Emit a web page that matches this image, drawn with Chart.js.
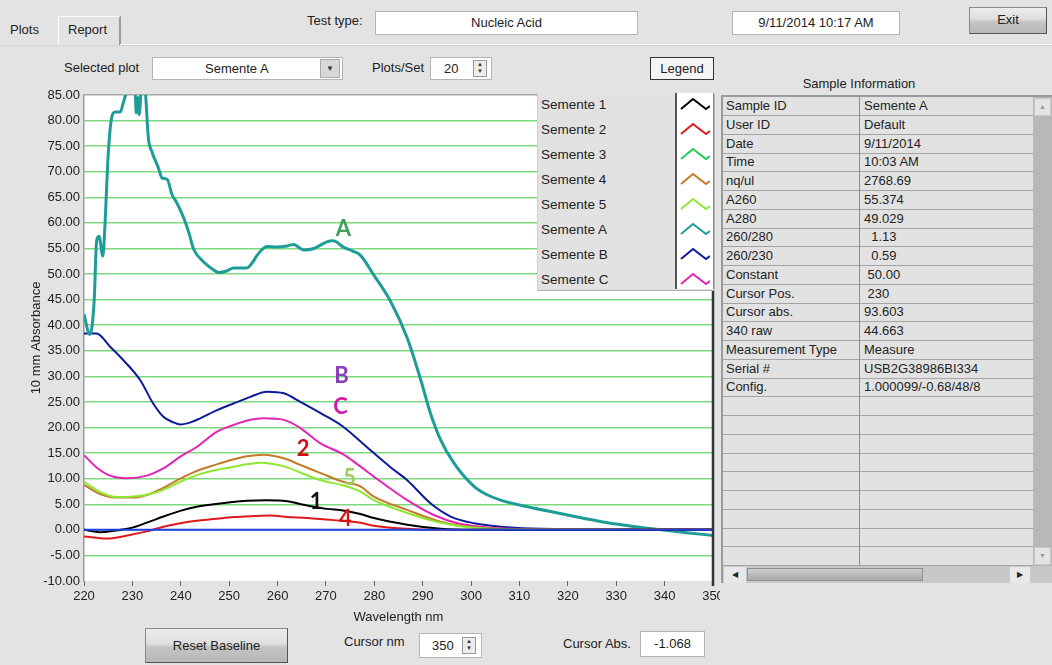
<!DOCTYPE html>
<html>
<head>
<meta charset="utf-8">
<script src="https://cdn.jsdelivr.net/npm/chart.js@4/dist/chart.umd.min.js"></script>
<style>
  body { margin: 0; width: 1052px; height: 665px; background: #e3e3e3; position: relative; overflow: hidden;
         font-family: "Liberation Sans", Arial, sans-serif; font-size: 13px; color: #222; }
  .t { position: absolute; white-space: pre; line-height: 16px; }
  .box { position: absolute; box-sizing: border-box; background: #fff; border: 1px solid #b4b4b4;
         line-height: 21px; text-align: center; }
  .btn { position: absolute; box-sizing: border-box; border: 1px solid #8a8a8a; border-right-color: #555; border-bottom-color: #555;
         background: linear-gradient(#ececec, #dedede 45%, #c4c4c4 55%, #b8b8b8); text-align: center; }
  .spin { position: absolute; width: 14px; height: 17px; border: 1px solid #999; background: #ececec; box-sizing: border-box;
          font-size: 6px; line-height: 7px; text-align: center; color: #333; }
  #wrap { position: absolute; left: 10px; top: 85px; width: 710px; height: 543px; }
  #legend { position: absolute; left: 537px; top: 92px; width: 177px; height: 199px; background: #e2e2e2;
            border-bottom: 1px solid #b0b0b0; border-left: 1px solid #d0d0d0; box-sizing: border-box; }
  #legend .lbl { position: absolute; left: 3px; font-size: 13.5px; line-height: 16px; }
  #legend .icons { position: absolute; left: 137px; top: 1px; width: 36px; height: 196px; background: #fff;
                   border-left: 2px solid #555; border-right: 1px solid #888; }
  #legend svg { position: absolute; left: 3px; }
  #table { position: absolute; left: 721px; top: 95px; width: 331px; height: 488px; background: #d6d6d6;
           border-left: 2px solid #9a9a9a; border-top: 2px solid #9a9a9a; box-sizing: border-box; }
  #table .row { position: absolute; left: 0; width: 312px; height: 19px; border-bottom: 1.5px solid #a4a4a4; box-sizing: border-box;
                background: #e2e2e2; }
  #table .c1 { position: absolute; left: 3px; top: 1px; white-space: pre; }
  #table .c2 { position: absolute; left: 141px; top: 1px; white-space: pre; }
  #table .div { position: absolute; left: 136px; top: 0; width: 1px; height: 468px; background: #8c8c8c; }
</style>
</head>
<body>

<!-- tabs and header -->
<div class="t" style="left:10px;top:22px;">Plots</div>
<div style="position:absolute;left:58px;top:16px;width:63px;height:29px;border-left:1px solid #fafafa;border-top:1px solid #fafafa;border-right:2px solid #9a9a9a;box-sizing:border-box;"></div>
<div class="t" style="left:68px;top:22px;">Report</div>
<div style="position:absolute;left:120px;top:44px;width:932px;height:1px;background:#fafafa;"></div>
<div style="position:absolute;left:0;top:45px;width:1052px;height:1px;background:#d2d2d2;"></div>

<div class="t" style="left:307px;top:13px;">Test type:</div>
<div class="box" style="left:375px;top:11px;width:263px;height:24px;">Nucleic Acid</div>
<div class="box" style="left:732px;top:11px;width:168px;height:24px;">9/11/2014  10:17 AM</div>
<div class="btn" style="left:969px;top:7px;width:78px;height:27px;line-height:24px;">Exit</div>

<div class="t" style="left:64px;top:60px;">Selected plot</div>
<div class="box" style="left:152px;top:57px;width:191px;height:23px;text-align:left;padding-left:52px;">Semente A</div>
<div style="position:absolute;left:320px;top:59px;width:20px;height:19px;background:#d8d8d8;border:1px solid #aaa;box-sizing:border-box;font-size:8px;line-height:17px;text-align:center;color:#333;">&#9660;</div>
<div class="t" style="left:372px;top:60px;">Plots/Set</div>
<div class="box" style="left:430px;top:57px;width:62px;height:23px;text-align:left;padding-left:13px;">20</div>
<div class="spin" style="left:473px;top:60px;">&#9650;<br>&#9660;</div>
<div style="position:absolute;left:650px;top:57px;width:64px;height:23px;border:1px solid #333;background:#f4f4f4;box-sizing:border-box;text-align:center;line-height:21px;">Legend</div>
<div class="t" style="left:759px;top:76px;width:200px;text-align:center;">Sample Information</div>

<div id="wrap"><canvas id="plot"></canvas></div>

<div id="legend"><div class="icons" id="legendIcons"></div></div>

<div id="table"><div class="div"></div>
  <div style="position:absolute;left:310px;top:0;width:19px;height:469px;background:#b8b8b8;"></div>
  <div style="position:absolute;left:311px;top:1px;width:17px;height:18px;background:#e4e4e4;border:1px solid #c8c8c8;box-sizing:border-box;font-size:7px;line-height:16px;text-align:center;color:#999;">&#9650;</div>
  <div style="position:absolute;left:311px;top:450px;width:17px;height:18px;background:#e4e4e4;border:1px solid #c8c8c8;box-sizing:border-box;font-size:7px;line-height:16px;text-align:center;color:#999;">&#9660;</div>
  <div style="position:absolute;left:0;top:469px;width:329px;height:17px;background:#c8c8c8;"></div>
  <div style="position:absolute;left:1px;top:470px;width:22px;height:16px;background:#e8e8e8;font-size:8px;line-height:16px;text-align:center;">&#9664;</div>
  <div style="position:absolute;left:24px;top:471px;width:176px;height:13px;background:linear-gradient(#cfcfcf,#a8a8a8);border:1px solid #909090;box-sizing:border-box;"></div>
  <div style="position:absolute;left:287px;top:470px;width:20px;height:16px;background:#e8e8e8;font-size:8px;line-height:16px;text-align:center;">&#9654;</div>
</div>

<!-- bottom controls -->
<div class="btn" style="left:145px;top:628px;width:143px;height:35px;line-height:33px;">Reset Baseline</div>
<div class="t" style="left:344px;top:634px;">Cursor nm</div>
<div class="box" style="left:419px;top:633px;width:63px;height:25px;text-align:left;padding-left:12px;line-height:23px;">350</div>
<div class="spin" style="left:462px;top:637px;">&#9650;<br>&#9660;</div>
<div class="t" style="left:563px;top:636px;">Cursor Abs.</div>
<div class="box" style="left:640px;top:631px;width:65px;height:26px;line-height:24px;">-1.068</div>

<script>
// wavelength (nm) / absorbance pairs
const nm1 = [220, 223.3, 226, 229.5, 233, 236.4, 239.9, 243.3, 246.8, 250.2, 253.7, 257.8, 262, 265.4, 270.2, 273.5, 277.1, 279.9, 286.8, 293.7, 300, 350];
const abs1 = [0, -0.45, -0.2, 0.3, 1.4, 2.6, 3.7, 4.5, 5.0, 5.4, 5.7, 5.8, 5.6, 4.9, 4.1, 3.8, 3.1, 2.3, 1.0, 0.2, 0, 0];

const nm2 = [220, 224.7, 229.5, 233, 236.4, 239.9, 243.3, 246.8, 250.9, 255.1, 258.5, 262, 266.1, 271.6, 277.1, 279.9, 286.8, 292, 350];
const abs2 = [-1.3, -1.7, -1.0, -0.3, 0.6, 1.3, 1.8, 2.1, 2.5, 2.7, 2.8, 2.5, 2.3, 1.9, 1.4, 0.8, 0.2, 0, 0];

const nm4 = [220, 223.3, 226.8, 230.3, 233.3, 236.4, 239.9, 243.3, 246.8, 250.2, 253.7, 257.1, 261.3, 264.7, 268.9, 273.5, 277.1, 279.9, 286.8, 293.7, 300.6, 310, 350];
const abs4 = [8.8, 7.0, 6.3, 6.3, 6.9, 8.2, 10.0, 11.5, 12.6, 13.6, 14.4, 14.7, 14.0, 12.7, 11.1, 9.4, 8.5, 6.5, 3.9, 1.6, 0.5, 0.1, 0];

const nm5 = [220, 223.3, 226.8, 230.3, 233.7, 236.4, 239.9, 243.3, 246.8, 250.2, 253.7, 256.5, 261.3, 264.7, 268.9, 273.5, 277.1, 279.9, 286.8, 293.7, 300.6, 310, 350];
const abs5 = [9.4, 7.4, 6.4, 6.5, 7.0, 7.8, 9.4, 10.7, 11.6, 12.2, 12.8, 13.1, 12.4, 11.2, 9.7, 8.7, 7.5, 5.8, 3.3, 1.4, 0.4, 0.1, 0];

const nmA = [220, 221.2, 222.1, 222.6, 223.1, 223.9, 224.3, 225.0, 225.7, 226.4, 227.5, 228.1, 228.7, 229.5, 230.2, 230.6, 230.8, 231.1, 231.4, 231.8, 232.2, 232.7,
  233.3, 234.0, 235.4, 236.1, 237.2, 238.2, 239.2, 240.6, 241.8, 242.6, 244.7, 246.5, 247.8, 249.5, 250.9, 253.7, 255.0, 255.8, 257.8, 259.9, 262.0, 263.3,
  265.4, 267.5, 270.2, 271.5, 273.7, 275.5, 277.1, 279.9, 283.4, 286.8, 289.6, 291.6, 293.7, 296.5, 300.6, 303.0, 306.1, 311.7, 319.9, 328.2, 339.3, 345, 350];
const absA = [42.1, 38.2, 44.7, 56.4, 57.4, 53.5, 59.0, 73.3, 80.5, 81.7, 81.7, 83.4, 85.5, 90, 89, 85, 81.5, 84.5, 81.2, 86, 90, 85.5,
  76.6, 74.0, 70.7, 68.8, 68.5, 65.5, 63.9, 61.0, 57.7, 55.0, 52.4, 51.0, 50.3, 50.6, 51.2, 51.2, 52.5, 53.7, 55.4, 55.3, 55.5, 55.8,
  54.7, 55.0, 56.3, 56.5, 55.2, 54.5, 53.7, 49.8, 44.6, 37.5, 29.3, 22.8, 17.6, 13.0, 8.5, 7.0, 5.8, 4.5, 2.9, 1.4, 0.0, -0.6, -1.1];

const nmB = [220, 222.6, 225.4, 228.1, 231.6, 234.3, 236.4, 238.5, 239.9, 242, 244, 247.5, 250.9, 254.4, 257.8, 261.3, 264.7, 268.9, 273.5, 277.1, 279.9, 283.4, 286.8, 291.6, 295.8, 300.6, 307.5, 314.4, 330, 350];
const absB = [38.4, 38.4, 35.8, 33.2, 29.3, 24.7, 22.1, 21.0, 20.6, 21.0, 21.8, 23.4, 24.7, 26.0, 27.0, 26.7, 25.0, 22.8, 20.2, 17.3, 15.0, 12.2, 9.7, 5.2, 2.6, 1.3, 0.5, 0.2, 0.1, 0.1];

const nmC = [220, 222.6, 225.4, 228.8, 233, 236.4, 239.9, 243.3, 247.5, 250.9, 254.4, 257.1, 261.3, 264.7, 268.9, 273.5, 277.1, 279.9, 286.8, 292.3, 297.2, 304, 315, 350];
const absC = [14.6, 12.2, 10.6, 10.1, 10.6, 12.0, 14.3, 16.2, 19.2, 20.5, 21.5, 21.8, 21.5, 19.9, 16.9, 14.8, 12.4, 10.4, 5.8, 2.9, 1.3, 0.4, 0.1, 0];

// zero baseline drawn by the instrument software
const nmBase = [220, 350];
const absBase = [0, 0];

const seriesNames = ['Semente 1', 'Semente 2', 'Semente 3', 'Semente 4', 'Semente 5', 'Semente A', 'Semente B', 'Semente C'];

// hand-written tags on the curves
const noteText = ['A', 'B', 'C', '2', '5', '1', '4'];
const noteNm = [273.6, 273.2, 273.0, 265.3, 274.9, 268.0, 274.0];
const noteAbs = [58.8, 30.1, 24.0, 15.8, 10.1, 5.4, 2.1];

const sampleFields = ['Sample ID', 'User ID', 'Date', 'Time', 'nq/ul', 'A260', 'A280', '260/280', '260/230', 'Constant',
  'Cursor Pos.', 'Cursor abs.', '340 raw', 'Measurement Type', 'Serial #', 'Config.'];
const sampleValues = ['Semente A', 'Default', '9/11/2014', '10:03 AM', '2768.69', '55.374', '49.029', '  1.13', '  0.59', ' 50.00',
  ' 230', '93.603', '44.663', 'Measure', 'USB2G38986BI334', '1.000099/-0.68/48/8'];

const colors = {
  'Semente 1': '#000000', 'Semente 2': '#e01a1a', 'Semente 3': '#22cc55', 'Semente 4': '#c47a28',
  'Semente 5': '#8ee830', 'Semente A': '#1e9c98', 'Semente B': '#0c1a9c', 'Semente C': '#e424b4',
  'Baseline': '#1e40e0'
};
const noteColors = ['#3f9f5f', '#8a3fb8', '#d21aa8', '#cc1010', '#9ccc5a', '#111111', '#d41414'];

const pts = (xs, ys) => xs.map((x, i) => ({ x, y: ys[i] }));

const line = (name, xs, ys, width) => ({
  label: name,
  data: pts(xs, ys),
  borderColor: colors[name],
  borderWidth: width,
  pointRadius: 0,
  cubicInterpolationMode: 'monotone',
});

// legend (HTML, like the instrument software panel)
const legendBox = document.getElementById('legend');
const iconBox = document.getElementById('legendIcons');
seriesNames.forEach((name, i) => {
  const lbl = document.createElement('div');
  lbl.className = 'lbl';
  lbl.style.top = (5 + i * 25) + 'px';
  lbl.textContent = name;
  legendBox.appendChild(lbl);
  const svg = document.createElementNS('http://www.w3.org/2000/svg', 'svg');
  svg.setAttribute('width', '30');
  svg.setAttribute('height', '16');
  svg.style.top = (3 + i * 25) + 'px';
  svg.innerHTML = '<polyline points="1,13 13,3 26,13 30,10" fill="none" stroke="' + colors[name] + '" stroke-width="2"/>';
  iconBox.appendChild(svg);
});

// sample information table
const table = document.getElementById('table');
for (let i = 0; i < 25; i++) {
  const row = document.createElement('div');
  row.className = 'row';
  row.style.top = (i * 18.75) + 'px';
  if (i < sampleFields.length) {
    row.innerHTML = '<span class="c1"></span><span class="c2"></span>';
    row.children[0].textContent = sampleFields[i];
    row.children[1].textContent = sampleValues[i];
  }
  table.insertBefore(row, table.firstChild);
}

const notesPlugin = {
  id: 'notes',
  beforeDraw(chart) {
    const { ctx, chartArea } = chart;
    ctx.save();
    ctx.fillStyle = '#ffffff';
    ctx.fillRect(chartArea.left, chartArea.top, chartArea.right - chartArea.left, chartArea.bottom - chartArea.top);
    ctx.restore();
  },
  afterDatasetsDraw(chart) {
    const { ctx, scales } = chart;
    ctx.save();
    ctx.font = 'bold 22px Lato, "Open Sans", sans-serif';
    ctx.textAlign = 'center';
    ctx.textBaseline = 'middle';
    noteText.forEach((t, i) => {
      ctx.fillStyle = noteColors[i];
      ctx.fillText(t, scales.x.getPixelForValue(noteNm[i]), scales.y.getPixelForValue(noteAbs[i]));
    });
    ctx.restore();
  },
  afterDraw(chart) {
    const { ctx, chartArea } = chart;
    ctx.save();
    ctx.strokeStyle = '#333';
    ctx.lineWidth = 2.5;
    ctx.beginPath();
    ctx.moveTo(chartArea.right, chartArea.top);
    ctx.lineTo(chartArea.right, chartArea.bottom + 5);
    ctx.stroke();
    ctx.restore();
  },
};

const tickFont = { family: '"Liberation Sans", Arial, sans-serif', size: 13 };

new Chart(document.getElementById('plot').getContext('2d'), {
  type: 'line',
  data: {
    datasets: [
      line('Baseline', nmBase, absBase, 2),
      line('Semente 1', nm1, abs1, 2),
      line('Semente 2', nm2, abs2, 2),
      line('Semente 5', nm5, abs5, 2),
      line('Semente 4', nm4, abs4, 2),
      line('Semente A', nmA, absA, 3),
      line('Semente C', nmC, absC, 2),
      line('Semente B', nmB, absB, 2),
    ],
  },
  options: {
    responsive: true,
    maintainAspectRatio: false,
    animation: false,
    layout: { padding: { top: 10, right: 7, left: 0, bottom: 0 } },
    plugins: { legend: { display: false }, tooltip: { enabled: false } },
    scales: {
      x: {
        type: 'linear',
        min: 220,
        max: 350,
        ticks: { stepSize: 10, color: '#222', font: tickFont, padding: 3 },
        grid: { drawOnChartArea: false, drawTicks: true, tickLength: 5, color: '#666' },
        border: { display: false },
        title: { display: true, text: 'Wavelength nm', color: '#222', font: tickFont, padding: { top: 0, bottom: 3 } },
        afterFit: (scale) => { scale.height = 47; scale.paddingLeft = 0; scale.paddingRight = 0; },
      },
      y: {
        min: -10,
        max: 85,
        ticks: { stepSize: 5, color: '#222', font: tickFont, padding: 4, callback: (v) => v.toFixed(2) },
        grid: {
          drawTicks: false,
          color: (c) => c.tick.value === 85 ? '#a8a8a8' : c.tick.value === -10 ? 'rgba(0,0,0,0)' : '#7ed97e',
          lineWidth: 1.5,
        },
        border: { display: true, color: '#9a9a9a', width: 1.5 },
        title: { display: true, text: '10 mm Absorbance', color: '#222', font: tickFont, padding: { top: 19, bottom: 0 } },
        afterFit: (scale) => { scale.width = 74; scale.paddingTop = 0; scale.paddingBottom = 0; },
      },
    },
  },
  plugins: [notesPlugin],
});
</script>
</body>
</html>
